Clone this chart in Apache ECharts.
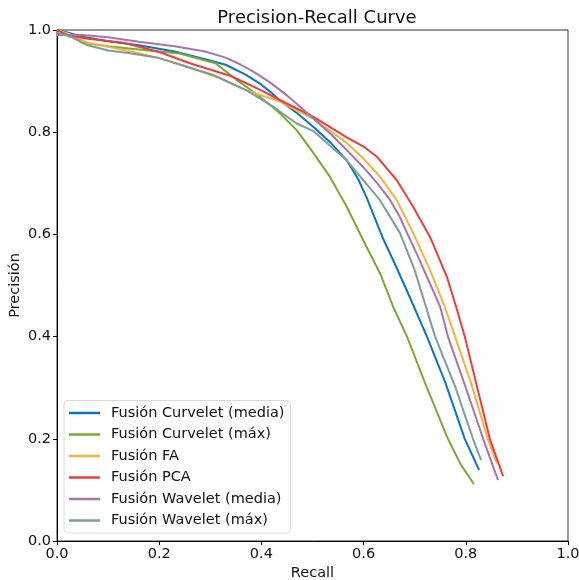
<!DOCTYPE html>
<html>
<head>
<meta charset="utf-8">
<script src="https://cdn.jsdelivr.net/npm/echarts@6/dist/echarts.min.js"></script>
<style>
html,body{margin:0;padding:0;background:#fff;}
#chart{width:579px;height:580px;}
</style>
</head>
<body>
<div id="chart"></div>
<script>
const seriesNames = ['Fusión Curvelet (media)', 'Fusión Curvelet (máx)', 'Fusión FA', 'Fusión PCA', 'Fusión Wavelet (media)', 'Fusión Wavelet (máx)'];
const seriesColors = ['#0b74c4', '#77ac30', '#fbb03b', '#f03c3c', '#a874ab', '#7f9c9c'];
const xTicks = [0, 0.2, 0.4, 0.6, 0.8, 1.0];
const yTicks = [0, 0.2, 0.4, 0.6, 0.8, 1.0];

const curveletMedia = [[0,1.0],[0.02,0.995],[0.05,0.987],[0.1,0.978],[0.16,0.97],[0.23,0.958],[0.29,0.943],[0.33,0.932],[0.37,0.912],[0.40,0.893],[0.42,0.877],[0.436,0.862],[0.47,0.837],[0.502,0.81],[0.535,0.78],[0.567,0.745],[0.59,0.707],[0.606,0.672],[0.622,0.632],[0.638,0.592],[0.66,0.545],[0.69,0.478],[0.724,0.40],[0.76,0.31],[0.798,0.20],[0.826,0.139]];
const curveletMax = [[0,1.0],[0.03,0.99],[0.05,0.975],[0.1,0.968],[0.16,0.962],[0.24,0.954],[0.31,0.935],[0.352,0.902],[0.38,0.882],[0.404,0.864],[0.436,0.837],[0.469,0.804],[0.502,0.759],[0.534,0.713],[0.567,0.654],[0.599,0.589],[0.632,0.524],[0.658,0.458],[0.685,0.40],[0.72,0.31],[0.765,0.20],[0.79,0.15],[0.816,0.111]];
const fusionFA = [[0,1.0],[0.03,0.99],[0.06,0.975],[0.1,0.967],[0.15,0.957],[0.2,0.945],[0.25,0.93],[0.32,0.905],[0.37,0.882],[0.436,0.86],[0.502,0.826],[0.538,0.80],[0.567,0.779],[0.6,0.748],[0.632,0.713],[0.665,0.667],[0.697,0.603],[0.73,0.53],[0.759,0.458],[0.779,0.40],[0.81,0.31],[0.843,0.20],[0.861,0.152]];
const fusionPCA = [[0,1.0],[0.02,0.99],[0.06,0.983],[0.13,0.975],[0.2,0.957],[0.26,0.935],[0.34,0.91],[0.40,0.882],[0.436,0.863],[0.502,0.83],[0.567,0.79],[0.6,0.772],[0.626,0.752],[0.665,0.706],[0.697,0.654],[0.73,0.595],[0.763,0.517],[0.783,0.452],[0.798,0.40],[0.82,0.31],[0.847,0.20],[0.873,0.127]];
const waveletMedia = [[0,0.99],[0.05,0.99],[0.1,0.986],[0.16,0.977],[0.23,0.968],[0.29,0.958],[0.33,0.946],[0.36,0.932],[0.39,0.915],[0.42,0.895],[0.45,0.872],[0.476,0.85],[0.505,0.824],[0.534,0.798],[0.565,0.767],[0.599,0.732],[0.627,0.70],[0.652,0.667],[0.67,0.636],[0.685,0.603],[0.705,0.56],[0.724,0.517],[0.75,0.458],[0.765,0.40],[0.80,0.30],[0.834,0.20],[0.863,0.119]];
const waveletMax = [[0,0.995],[0.03,0.985],[0.06,0.97],[0.1,0.96],[0.14,0.955],[0.2,0.945],[0.241,0.932],[0.306,0.912],[0.371,0.882],[0.423,0.85],[0.469,0.817],[0.502,0.802],[0.567,0.745],[0.632,0.667],[0.671,0.603],[0.70,0.53],[0.74,0.40],[0.78,0.30],[0.814,0.20],[0.83,0.158]];

const allData = [curveletMedia, curveletMax, fusionFA, fusionPCA, waveletMedia, waveletMax];
const font = 'DejaVu Sans';

const chart = echarts.init(document.getElementById('chart'), null, {renderer: 'canvas'});
const axisCommon = {
  type: 'value', min: 0, max: 1, interval: 0.2,
  axisLine: {show: true, lineStyle: {color: '#000', width: 1}},
  axisTick: {show: true, inside: false, length: 4, lineStyle: {color: '#000'}},
  splitLine: {show: false},
  axisLabel: {color: '#111', fontFamily: font, fontSize: 14.5, formatter: v => v.toFixed(1)}
};
chart.setOption({
  animation: false,
  backgroundColor: '#fff',
  title: {text: 'Precision-Recall Curve', left: 312, top: 4, textAlign: 'center',
    textStyle: {fontFamily: font, fontSize: 18, fontWeight: 'normal', color: '#111'}},
  grid: {left: 57, right: 11, top: 30, bottom: 39, show: true, borderColor: '#333', borderWidth: 1,
    containLabel: false, outerBoundsMode: 'none'},
  xAxis: Object.assign({}, axisCommon, {name: 'Recall', nameLocation: 'middle', nameGap: 25,
    nameMoveOverlap: false,
    nameTextStyle: {fontFamily: font, fontSize: 14.5, color: '#111'},
    axisLabel: Object.assign({}, axisCommon.axisLabel, {margin: 6})}),
  yAxis: Object.assign({}, axisCommon, {name: 'Precisión', nameLocation: 'middle', nameGap: 34,
    nameMoveOverlap: false,
    nameTextStyle: {fontFamily: font, fontSize: 14.5, color: '#111'},
    axisLabel: Object.assign({}, axisCommon.axisLabel, {margin: 6})}),
  legend: {
    orient: 'vertical', left: 64, bottom: 47, data: seriesNames,
    icon: 'rect', itemWidth: 31, itemHeight: 2.5, itemGap: 6.5,
    backgroundColor: 'rgba(255,255,255,0.85)', borderColor: '#d8d8d8', borderWidth: 1, borderRadius: 4,
    padding: [5, 6, 5, 5],
    textStyle: {fontFamily: font, fontSize: 14.5, lineHeight: 15, color: '#111', padding: [0, 0, 0, 6]}
  },
  series: seriesNames.map((n, i) => ({
    name: n, type: 'line', data: allData[i], showSymbol: false, symbol: 'none',
    lineStyle: {color: seriesColors[i], width: 2}, itemStyle: {color: seriesColors[i]},
    clip: true
  }))
});
</script>
</body>
</html>
